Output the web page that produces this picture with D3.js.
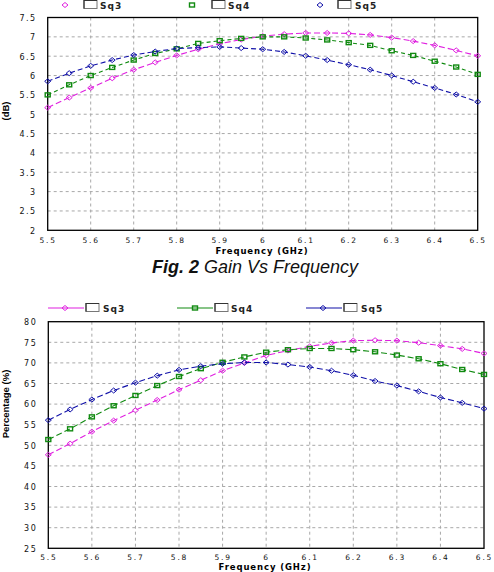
<!DOCTYPE html>
<html><head><meta charset="utf-8">
<script src="https://cdn.jsdelivr.net/npm/d3@7/dist/d3.min.js"></script>
<style>body{margin:0;background:#fff}svg{display:block}</style>
</head><body><svg id="c" width="494" height="572"></svg>
<script>
const freq = [5.5,5.55,5.6,5.65,5.7,5.75,5.8,5.85,5.9,5.95,6.0,6.05,6.1,6.15,6.2,6.25,6.3,6.35,6.4,6.45,6.5];
const seriesNames = ["Sq3","Sq4","Sq5"];
const gainSq3 = [5.17,5.43,5.68,5.93,6.15,6.34,6.52,6.68,6.82,6.93,7.02,7.07,7.10,7.10,7.09,7.05,6.98,6.89,6.78,6.65,6.51];
const gainSq4 = [5.50,5.76,6.00,6.21,6.40,6.57,6.69,6.83,6.90,6.96,7.00,7.00,6.97,6.92,6.85,6.78,6.64,6.52,6.37,6.22,6.03];
const gainSq5 = [5.85,6.06,6.25,6.40,6.53,6.62,6.70,6.72,6.74,6.71,6.68,6.61,6.51,6.40,6.28,6.15,6.00,5.84,5.68,5.51,5.32];
const effSq3 = [47.7,50.4,53.3,56.0,58.5,61.0,63.5,65.8,68.1,70.0,71.8,73.0,74.0,74.85,75.4,75.5,75.4,74.9,74.2,73.4,72.3];
const effSq4 = [51.4,54.0,56.9,59.6,62.1,64.5,66.7,68.6,70.15,71.45,72.6,73.2,73.5,73.5,73.2,72.7,71.9,71.0,69.8,68.4,67.2];
const effSq5 = [56.1,58.7,61.1,63.3,65.2,66.9,68.3,69.2,69.8,70.1,70.1,69.6,69.0,68.1,67.0,65.6,64.5,63.1,61.6,60.3,58.9];
const xTicks = [5.5,5.6,5.7,5.8,5.9,6.0,6.1,6.2,6.3,6.4,6.5];
const xTickLabels = ["5.5","5.6","5.7","5.8","5.9","6","6.1","6.2","6.3","6.4","6.5"];
const gainTicks = [2,2.5,3,3.5,4,4.5,5,5.5,6,6.5,7,7.5];
const effTicks = [25,30,35,40,45,50,55,60,65,70,75,80];
const colors = ["#e020e0","#108a10","#1010a8"];
const shapes = ["diamond","square","diamond"];

const svg = d3.select("#c");
const tickFont = "'DejaVu Sans', sans-serif";

function marker(g, shape, x, y, color){
  if(shape==="square"){
    g.append("rect").attr("x",x-2.5).attr("y",y-2).attr("width",5).attr("height",4)
     .attr("fill","none").attr("stroke",color).attr("stroke-width",1.4);
  } else {
    g.append("path").attr("d",`M${x-3},${y}L${x},${y-2.5}L${x+3},${y}L${x},${y+2.5}Z`)
     .attr("fill","none").attr("stroke",color).attr("stroke-width",1);
  }
}

function chart(opt){
  const x = d3.scaleLinear().domain([5.5,6.5]).range([opt.left,opt.right]);
  const y = d3.scaleLinear().domain(opt.ydomain).range([opt.bottom,opt.top]);
  const g = svg.append("g");
  g.append("g").selectAll("line").data(xTicks.slice(1,-1)).join("line")
    .attr("x1",d=>x(d)).attr("x2",d=>x(d)).attr("y1",opt.top).attr("y2",opt.bottom)
    .attr("stroke","#a8a8a8").attr("stroke-dasharray","3,3");
  g.append("g").selectAll("line").data(opt.yticks.slice(1,-1)).join("line")
    .attr("x1",opt.left).attr("x2",opt.right).attr("y1",d=>y(d)).attr("y2",d=>y(d))
    .attr("stroke","#a8a8a8").attr("stroke-dasharray","3,3");
  g.append("rect").attr("x",opt.left).attr("y",opt.top).attr("width",opt.right-opt.left)
    .attr("height",opt.bottom-opt.top).attr("fill","none").attr("stroke","#000").attr("stroke-width",1.3);
  const ax = d3.axisBottom(x).tickValues(xTicks).tickFormat((d,i)=>xTickLabels[i]).tickSize(0).tickPadding(0);
  const xa = g.append("g").attr("transform",`translate(0,${opt.bottom+opt.tickDy})`).call(ax);
  xa.select(".domain").remove();
  xa.selectAll("text").attr("font-family",tickFont).attr("font-size",7.5).attr("letter-spacing","1.8px").attr("fill","#111").attr("dy","0");
  const ay = d3.axisLeft(y).tickValues(opt.yticks).tickFormat(d=>String(d)).tickSize(0).tickPadding(0);
  const ya = g.append("g").attr("transform",`translate(${opt.left-11},0)`).call(ay);
  ya.select(".domain").remove();
  ya.selectAll("text").attr("font-family",tickFont).attr("font-size",8).attr("letter-spacing","1.5px").attr("fill","#111").attr("dy","0.35em");
  g.append("text").attr("x",opt.xtitleX).attr("y",opt.xtitleY).attr("text-anchor","middle")
    .attr("font-family",tickFont).attr("font-weight","bold").attr("font-size",8.5).attr("letter-spacing","0.9px")
    .attr("fill","#000").text("Frequency (GHz)");
  g.append("text").attr("transform",`translate(${opt.ytitleX},${opt.ytitleY}) rotate(-90)`).attr("text-anchor","middle")
    .attr("font-family","'Liberation Sans Narrow','Liberation Sans',sans-serif").attr("font-size",9.5).attr("fill","#000")
    .attr("font-weight","bold").text(opt.ytitle);
  opt.series.forEach((vals,si)=>{
    const line = d3.line().x((d,i)=>x(freq[i])).y(d=>y(d));
    g.append("path").datum(vals).attr("d",line).attr("fill","none").attr("stroke",colors[si])
      .attr("stroke-width",1.1).attr("stroke-dasharray",opt.dash[si]);
    const mg = g.append("g");
    vals.forEach((v,i)=>marker(mg,shapes[si],x(freq[i]),y(v),colors[si]));
  });
  opt.legend.forEach((L,si)=>{
    const lg = g.append("g");
    if(opt.legendLines){
      lg.append("line").attr("x1",L.lx1).attr("x2",L.lx2).attr("y1",opt.legendY).attr("y2",opt.legendY)
        .attr("stroke",colors[si]).attr("stroke-width",1.2);
    }
    marker(lg,shapes[si],L.mx,opt.legendY,colors[si]);
    lg.append("rect").attr("x",L.bx).attr("y",opt.legendY-opt.boxH/2-0.5).attr("width",13).attr("height",opt.boxH)
      .attr("fill","#fff").attr("stroke","#777").attr("stroke-width",1);
    lg.append("path").attr("d",`M${L.bx},${opt.legendY+opt.boxH/2-0.5}V${opt.legendY-opt.boxH/2-0.5}H${L.bx+13}`)
      .attr("fill","none").attr("stroke","#333").attr("stroke-width",1.2);
    lg.append("text").attr("x",L.tx).attr("y",opt.legendY+3.5).attr("font-family",tickFont)
      .attr("font-weight","bold").attr("font-size",9).attr("letter-spacing","1px").attr("fill","#222").text(seriesNames[si]);
  });
}

chart({left:47.7,right:477.7,top:17.5,bottom:230.3,ydomain:[2,7.5],yticks:gainTicks,tickDy:12.5,
  xtitleX:262,xtitleY:253.5,ytitle:"(dB)",ytitleX:9,ytitleY:111,
  series:[gainSq3,gainSq4,gainSq5],dash:["6,3","4,3","5,3"],
  legendLines:false,legendY:5,boxH:8,
  legend:[{mx:65,bx:84,tx:100},{mx:192,bx:212,tx:228},{mx:320,bx:338,tx:355}]});

chart({left:48.3,right:484,top:321.7,bottom:548.3,ydomain:[25,80],yticks:effTicks,tickDy:11.5,
  xtitleX:265,xtitleY:569.5,ytitle:"Percentage (%)",ytitleX:9,ytitleY:404,
  series:[effSq3,effSq4,effSq5],dash:["6,3","6,3","6,3"],
  legendLines:true,legendY:308,boxH:8,
  legend:[{lx1:48,lx2:84,mx:65,bx:86,tx:103},{lx1:177,lx2:213,mx:195,bx:215,tx:231},{lx1:306,lx2:342,mx:323,bx:344,tx:361}]});

const cap = svg.append("text").attr("x",255).attr("y",273).attr("text-anchor","middle")
  .attr("font-family","'Liberation Sans',Arial,sans-serif").attr("font-size",18).attr("font-style","italic").attr("fill","#111");
cap.append("tspan").attr("font-weight","bold").text("Fig. 2");
cap.append("tspan").text(" Gain Vs Frequency");
</script></body></html>
